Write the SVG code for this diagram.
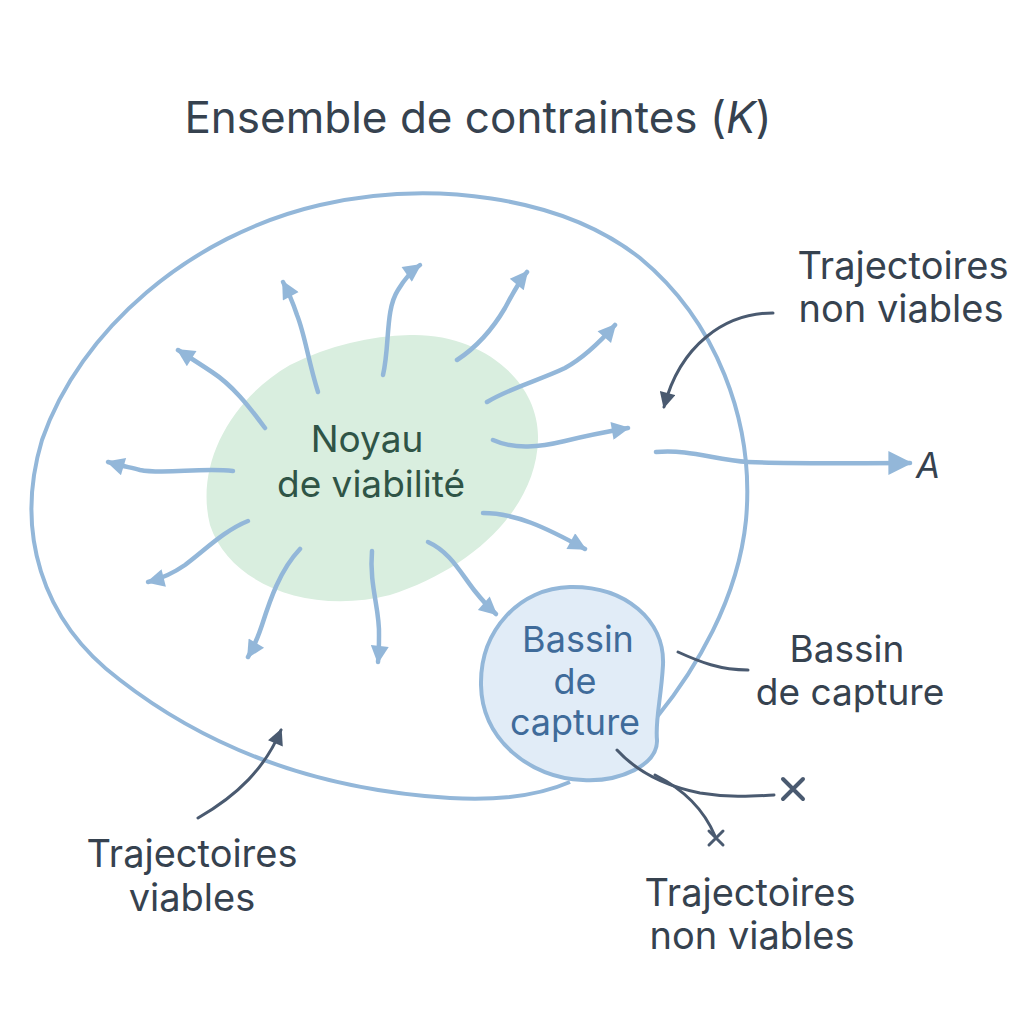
<svg xmlns="http://www.w3.org/2000/svg" width="1024" height="1024" viewBox="0 0 1024 1024">
<defs>
<style>
.lbl{font-family:Inter,"Noto Sans","Liberation Sans",sans-serif;fill:#36424f;text-anchor:middle}
.flow{fill:none;stroke:#93b7d9;stroke-width:4.5;stroke-linecap:round}
.dark{fill:none;stroke:#4a5a70;stroke-width:3;stroke-linecap:round}
</style>
<marker id="ah" viewBox="0 0 10 10" refX="9" refY="5" markerWidth="22" markerHeight="18" markerUnits="userSpaceOnUse" orient="auto"><path d="M0,0 L10,5 L0,10 z" fill="#93b7d9"/></marker>
<marker id="ahBig" viewBox="0 0 10 10" refX="9" refY="5" markerWidth="26" markerHeight="24" markerUnits="userSpaceOnUse" orient="auto"><path d="M0,0 L10,5 L0,10 z" fill="#93b7d9"/></marker>
<marker id="ahDark" viewBox="0 0 10 10" refX="9" refY="5" markerWidth="18" markerHeight="16" markerUnits="userSpaceOnUse" orient="auto"><path d="M0,0 L10,5 L0,10 z" fill="#4a5a70"/></marker>
</defs>
<rect width="1024" height="1024" fill="#ffffff"/>

<text class="lbl" x="478" y="133" font-size="44">Ensemble de contraintes (<tspan font-style="italic">K</tspan>)</text>

<g id="K">
<path d="M657 717 C695 670 738 600 746 520 C755 420 715 320 640 258 C560 195 430 180 320 205 C190 235 80 330 42 440 C15 530 40 620 120 680 C210 750 320 790 450 798 C500 801 540 795 570 782" fill="none" stroke="#93b7d9" stroke-width="4"/>
</g>

<g id="noyau">
<path d="M410 335 C480 333 540 380 538 440 C536 510 470 570 390 595 C310 615 230 585 210 525 C195 465 230 400 290 365 C330 345 370 336 410 335 Z" fill="#d9eedf"/>
<text class="lbl" x="367" y="452" font-size="37" style="fill:#2f5446">Noyau</text>
<text class="lbl" x="371" y="497" font-size="37" style="fill:#2f5446">de viabilité</text>
</g>

<g id="bassin">
<path d="M570 587 C625 586 665 620 663 665 C661 700 655 720 657 740 C658 765 620 782 583 780 C530 778 482 740 481 685 C480 630 520 588 570 587 Z" fill="#e1ecf7" stroke="#93b7d9" stroke-width="4"/>
<text class="lbl" x="578" y="652" font-size="36" style="fill:#3f6b9a">Bassin</text>
<text class="lbl" x="575" y="694" font-size="36" style="fill:#3f6b9a">de</text>
<text class="lbl" x="575" y="735" font-size="36" style="fill:#3f6b9a">capture</text>
</g>

<g id="connectors">
<path class="flow" marker-end="url(#ah)" d="M318 392 C308 360 305 335 297 315 C293 303 289 293 283 282"/>
<path class="flow" marker-end="url(#ah)" d="M383 375 C390 345 385 310 398 290 C404 280 410 272 420 265"/>
<path class="flow" marker-end="url(#ah)" d="M457 360 C480 345 495 325 505 308 C512 295 518 283 527 272"/>
<path class="flow" marker-end="url(#ah)" d="M487 402 C510 388 540 380 565 368 C585 357 600 342 615 325"/>
<path class="flow" marker-end="url(#ah)" d="M493 440 C515 450 540 447 565 441 C585 436 605 432 628 428"/>
<path class="flow" marker-end="url(#ah)" d="M483 513 C515 513 545 527 585 549"/>
<path class="flow" marker-end="url(#ah)" d="M428 542 C450 552 460 572 474 590 C482 600 488 607 496 614"/>
<path class="flow" marker-end="url(#ah)" d="M372 551 C369 585 380 610 379 635 C379 645 379 653 378 662"/>
<path class="flow" marker-end="url(#ah)" d="M300 549 C280 570 270 600 262 625 C258 637 254 647 248 657"/>
<path class="flow" marker-end="url(#ah)" d="M248 521 C225 530 205 550 185 565 C172 574 160 579 148 582"/>
<path class="flow" marker-end="url(#ah)" d="M233 471 C200 467 165 475 140 470 C128 467 118 465 108 462"/>
<path class="flow" marker-end="url(#ah)" d="M265 428 C248 405 232 385 212 372 C200 364 189 357 178 350"/>
<path class="flow" marker-end="url(#ahBig)" d="M656 452 C690 449 715 460 748 462 C790 464 850 463 910 463"/>

<path class="dark" marker-end="url(#ahDark)" d="M773 313 C725 313 680 345 664 407"/>
<path class="dark" marker-end="url(#ahDark)" d="M198 818 C238 795 265 768 281 730"/>
<path class="dark" d="M678 652 C700 662 720 670 748 670"/>
<path class="dark" d="M617 750 C640 775 670 787 700 793 C730 798 755 796 774 795"/>
<path class="dark" d="M655 775 C685 790 705 812 715 836"/>
<path d="M783 779 L803 799 M803 779 L783 799" stroke="#4a5a70" stroke-width="4" stroke-linecap="round" fill="none"/>
<path d="M709 831 L723 845 M723 831 L709 845" stroke="#4a5a70" stroke-width="3" stroke-linecap="round" fill="none"/>
</g>

<text x="928" y="478" font-size="35" font-style="italic" font-family="Inter,'Noto Sans','Liberation Sans',sans-serif" fill="#36424f" text-anchor="middle">A</text>

<g id="lbl-nonviables-top">
<text class="lbl" x="903" y="279" font-size="38">Trajectoires</text>
<text class="lbl" x="901" y="322" font-size="38">non viables</text>
</g>
<g id="lbl-bassin">
<text class="lbl" x="847" y="662" font-size="37">Bassin</text>
<text class="lbl" x="850" y="705" font-size="37">de capture</text>
</g>
<g id="lbl-viables">
<text class="lbl" x="192" y="867" font-size="38">Trajectoires</text>
<text class="lbl" x="192" y="911" font-size="38">viables</text>
</g>
<g id="lbl-nonviables-bottom">
<text class="lbl" x="750" y="906" font-size="38">Trajectoires</text>
<text class="lbl" x="752" y="949" font-size="38">non viables</text>
</g>
</svg>
